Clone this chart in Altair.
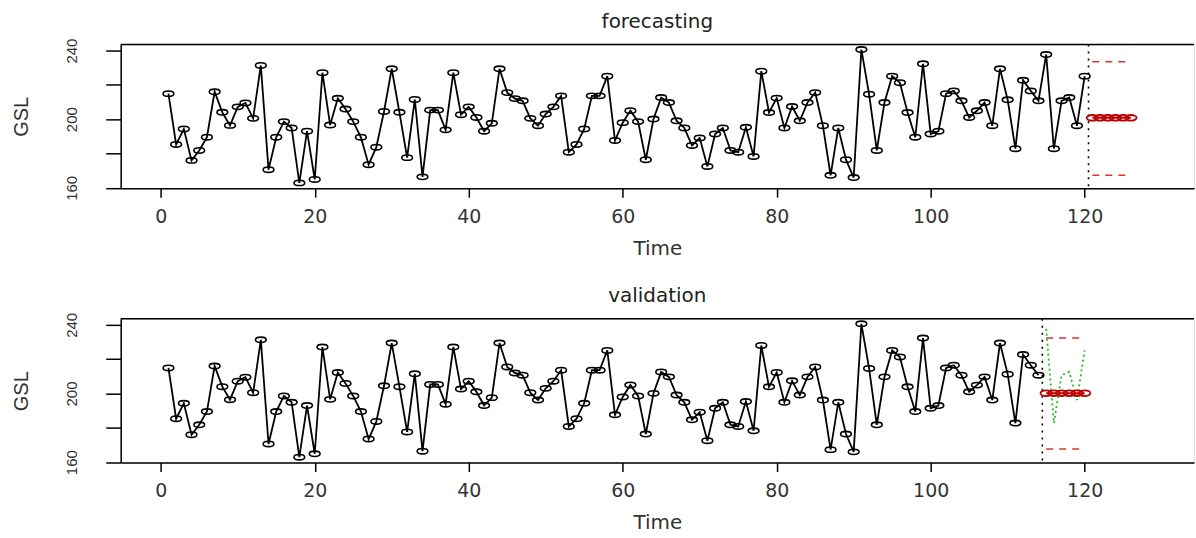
import altair as alt
import pandas as pd

# ---- data ----
time = list(range(1, 121))
gsl = [214.9, 185.3, 194.3, 176.0, 181.8, 189.5, 216.0, 204.0, 196.4, 207.2,
       209.5, 200.5, 231.3, 170.6, 189.5, 198.6, 194.9, 162.9, 193.0, 164.9,
       227.1, 196.6, 212.2, 205.9, 198.6, 189.5, 173.5, 183.7, 204.5, 229.4,
       204.0, 177.6, 211.5, 166.4, 205.3, 205.3, 193.8, 227.1, 202.6, 207.2,
       201.0, 193.0, 197.6, 229.4, 215.5, 212.0, 210.7, 200.5, 196.2, 203.0,
       207.2, 213.6, 180.8, 185.3, 194.3, 213.6, 213.6, 225.1, 187.6, 198.0,
       205.0, 198.6, 176.4, 200.1, 212.6, 209.7, 199.1, 194.9, 184.7, 189.1,
       172.5, 191.4, 194.9, 181.8, 180.8, 195.3, 178.3, 228.0, 203.9, 212.3,
       194.9, 207.4, 199.1, 209.7, 215.5, 196.2, 167.3, 194.9, 176.4, 166.0,
       240.6, 214.6, 181.8, 209.7, 225.1, 221.3, 203.9, 189.5, 232.3, 191.4,
       193.0, 214.9, 216.5, 210.7, 201.0, 204.9, 209.7, 196.2, 229.4, 211.3,
       182.8, 222.7, 216.5, 210.7, 237.7, 182.8, 210.7, 212.6, 196.2, 225.1]

# forecasting panel (horizon after t = 120)
fc_time = [121, 122, 123, 124, 125, 126]
fc_mean = [200.8, 200.8, 200.8, 200.8, 200.8, 200.8]
fc_upper = [233.5, 233.5, 233.5, 233.5, 233.5, 233.5]
fc_lower = [167.3, 167.3, 167.3, 167.3, 167.3, 167.3]
fc_split = [120.5]

# validation panel (train up to t = 114, test 115..120)
val_train_n = 114
val_time = [115, 116, 117, 118, 119, 120]
val_mean = [200.2, 200.2, 200.2, 200.2, 200.2, 200.2]
val_upper = [232.3, 232.3, 232.3, 232.3, 232.3, 232.3]
val_lower = [167.7, 167.7, 167.7, 167.7, 167.7, 167.7]
val_actual = [237.7, 182.8, 210.7, 212.6, 196.2, 225.1]
val_split = [114.5]

x_ticks = [0, 20, 40, 60, 80, 100, 120]
y_ticks = [160, 180, 200, 220, 240]

ELLIPSE = "M-1,0 A1,0.5 0 1,0 1,0 A1,0.5 0 1,0 -1,0 Z"

XS = alt.Scale(domain=[-5.2, 134.2], nice=False, zero=False)
YS = alt.Scale(domain=[159.8, 243.5], nice=False, zero=False)

x_axis = alt.Axis(values=x_ticks, tickSize=9, tickWidth=1.5, tickColor="black",
                  domainColor="black", domainWidth=1.5, grid=False,
                  labelFont="DejaVu Sans", labelFontSize=19, labelColor="#333",
                  labelPadding=10, title="Time", titleFont="DejaVu Sans",
                  titleFontSize=20, titleFontWeight="normal", titleColor="#333",
                  titlePadding=12)
y_axis = alt.Axis(values=y_ticks, tickSize=15, tickWidth=1.5, tickColor="black",
                  domainColor="black", domainWidth=1.5, grid=False,
                  labelAngle=270, labelAlign="center", labelBaseline="bottom",
                  labelExpr="datum.value % 40 == 0 ? datum.label : ''",
                  labelFont="Liberation Sans", labelFontSize=15, labelColor="#333",
                  labelPadding=26, title="GSL", titleFont="Liberation Sans",
                  titleFontSize=20, titleFontWeight="normal", titleColor="#333",
                  titlePadding=33)


def X(field):
    return alt.X(field, type="quantitative", scale=XS, axis=x_axis)


def Y(field):
    return alt.Y(field, type="quantitative", scale=YS, axis=y_axis)


def panel(title, t, v, ft, fm, fu, fl, split, at=None, av=None):
    obs = pd.DataFrame({"t": t, "v": v})
    fc = pd.DataFrame({"t": ft, "m": fm, "u": fu, "l": fl})
    sp = pd.DataFrame({"s": split})

    line = alt.Chart(obs).mark_line(color="black", strokeWidth=1.8).encode(
        x=X("t"), y=Y("v"))
    pts = alt.Chart(obs).mark_point(shape=ELLIPSE, size=115, filled=False,
                                    color="black", strokeWidth=1.6, opacity=1).encode(
        x=X("t"), y=Y("v"))
    # top edge of the plot frame (right edge is cut off in the reference)
    frame_top = alt.Chart(sp).mark_rule(color="black", strokeWidth=1.5).encode(
        y=alt.value(0))
    rule = alt.Chart(sp).mark_rule(color="black", strokeWidth=1.6,
                                   strokeDash=[2, 5]).encode(x=X("s"))
    up = alt.Chart(fc).mark_line(color="#dd3333", strokeWidth=1.5,
                                 strokeDash=[7, 6]).encode(x=X("t"), y=Y("u"))
    lo = alt.Chart(fc).mark_line(color="#dd3333", strokeWidth=1.5,
                                 strokeDash=[7, 6]).encode(x=X("t"), y=Y("l"))
    fline = alt.Chart(fc).mark_line(color="#c00000", strokeWidth=2).encode(
        x=X("t"), y=Y("m"))
    fpts = alt.Chart(fc).mark_point(shape=ELLIPSE, size=130, filled=False,
                                    color="#c00000", strokeWidth=1.8, opacity=1).encode(
        x=X("t"), y=Y("m"))
    layers = [line, pts, frame_top, rule, up, lo]
    if at is not None:
        act = pd.DataFrame({"t": at, "v": av})
        green = alt.Chart(act).mark_line(color="#22bb22", strokeWidth=1.8,
                                         strokeDash=[2, 3]).encode(x=X("t"), y=Y("v"))
        layers.append(green)
    layers += [fline, fpts]
    return alt.layer(*layers).properties(
        width=1076, height=144,
        title=alt.TitleParams(title, font="DejaVu Sans", fontSize=20,
                              fontWeight="normal", color="#222", anchor="middle",
                              offset=6))


top = panel("forecasting", time, gsl, fc_time, fc_mean, fc_upper, fc_lower, fc_split)
bottom = panel("validation", time[:val_train_n], gsl[:val_train_n], val_time,
               val_mean, val_upper, val_lower, val_split, val_time, val_actual)

chart = alt.vconcat(top, bottom, spacing=27).properties(
    padding={"left": 11, "top": 11, "right": 0, "bottom": 0}
).configure_view(strokeWidth=0).configure(background="white")

chart.save("out.html", embed_options={"renderer": "svg", "actions": False})
